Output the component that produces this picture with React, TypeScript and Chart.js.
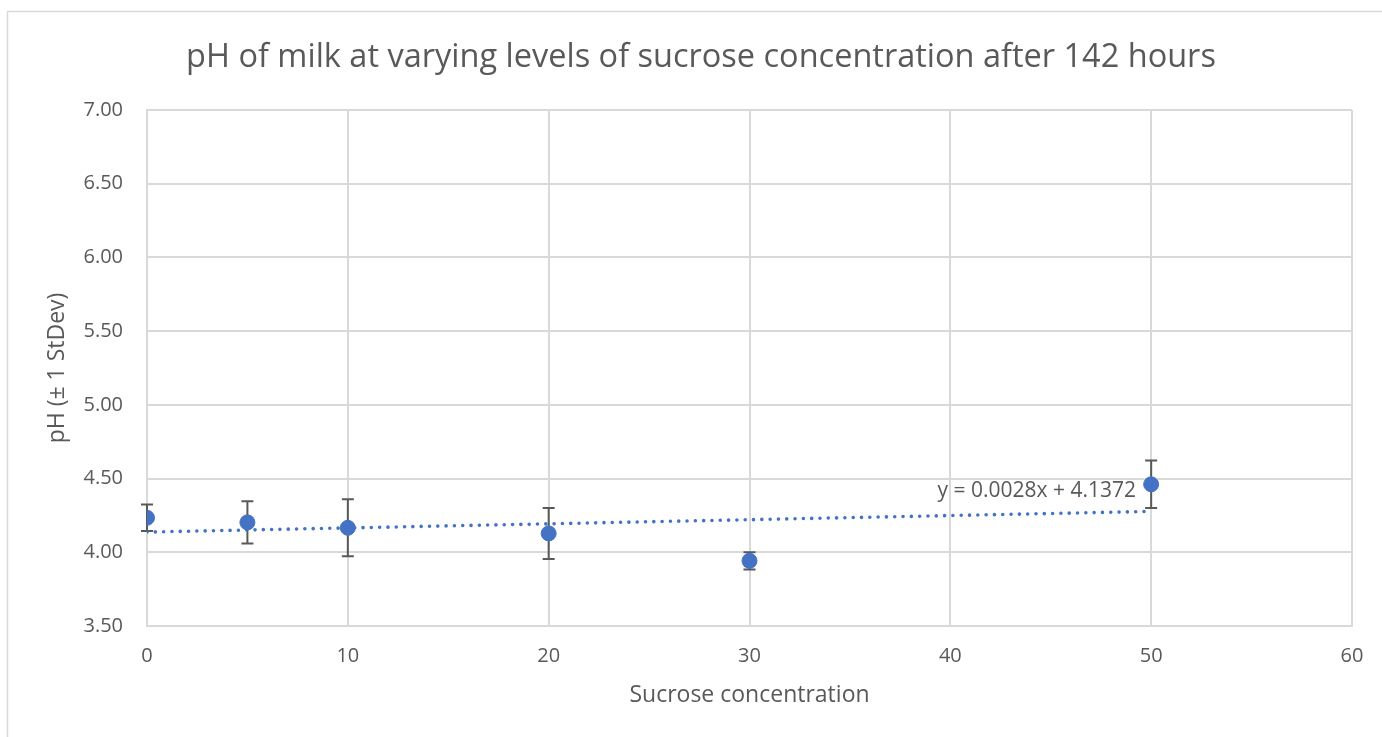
import React, { useEffect, useRef } from "react";
import { Chart, registerables } from "chart.js";

Chart.register(...registerables);

const sucrose = [0, 5, 10, 20, 30, 50];
const phMean = [4.234, 4.203, 4.166, 4.128, 3.942, 4.461];
const phSd = [0.09, 0.143, 0.193, 0.173, 0.058, 0.161];
const trendX = [0, 50];
const trendY = [4.1372, 4.2772];
const trendLabel = "y = 0.0028x + 4.1372";
const chartTitle = "pH of milk at varying levels of sucrose concentration after 142 hours";
const xTitle = "Sucrose concentration";
const yTitle = "pH (\u00b1 1 StDev)";

const FONT = "'Open Sans', 'DejaVu Sans', sans-serif";
const TEXT = "#595959";
const GRID = "#d9d9d9";
const BLUE = "#4472C4";

const W = 1382;
const H = 737;

export default function App() {
  const ref = useRef<HTMLCanvasElement | null>(null);

  useEffect(() => {
    const canvas = ref.current;
    if (!canvas) return;

    const decor = {
      id: "decor",
      beforeDraw(chart: any) {
        const ctx = chart.ctx;
        ctx.save();
        ctx.strokeStyle = GRID;
        ctx.lineWidth = 1.5;
        ctx.beginPath();
        ctx.moveTo(7.5, H);
        ctx.lineTo(7.5, 11.5);
        ctx.lineTo(W, 11.5);
        ctx.stroke();
        ctx.fillStyle = TEXT;
        ctx.font = `32.5px ${FONT}`;
        ctx.textAlign = "center";
        ctx.textBaseline = "middle";
        ctx.fillText(chartTitle, 701, 58);
        ctx.restore();
      },
      beforeDatasetsDraw(chart: any) {
        const ctx = chart.ctx;
        const xs = chart.scales.x;
        const ys = chart.scales.y;
        ctx.save();
        ctx.strokeStyle = "#595959";
        ctx.lineWidth = 2;
        for (let i = 0; i < sucrose.length; i++) {
          const px = xs.getPixelForValue(sucrose[i]);
          const top = ys.getPixelForValue(phMean[i] + phSd[i]);
          const bot = ys.getPixelForValue(phMean[i] - phSd[i]);
          ctx.beginPath();
          ctx.moveTo(px, top);
          ctx.lineTo(px, bot);
          ctx.moveTo(px - 6, top);
          ctx.lineTo(px + 6, top);
          ctx.moveTo(px - 6, bot);
          ctx.lineTo(px + 6, bot);
          ctx.stroke();
        }
        ctx.restore();
      },
      afterDatasetsDraw(chart: any) {
        const ctx = chart.ctx;
        ctx.save();
        ctx.fillStyle = TEXT;
        ctx.font = `21px ${FONT}`;
        ctx.textAlign = "right";
        ctx.textBaseline = "middle";
        ctx.fillText(trendLabel, 1136, 491);
        ctx.restore();
      },
    };

    const chart = new Chart(canvas, {
      type: "scatter",
      data: {
        datasets: [
          {
            label: "pH",
            data: sucrose.map((x, i) => ({ x, y: phMean[i] })),
            backgroundColor: BLUE,
            borderColor: BLUE,
            pointRadius: 7.5,
            pointHoverRadius: 7.5,
            showLine: false,
            order: 1,
          },
          {
            label: "Trend",
            type: "line",
            data: trendX.map((x, i) => ({ x, y: trendY[i] })),
            borderColor: BLUE,
            borderWidth: 3.6,
            borderDash: [0.01, 8.3],
            borderCapStyle: "round",
            pointRadius: 0,
            fill: false,
            showLine: true,
            order: 2,
          } as any,
        ],
      },
      options: {
        animation: false,
        responsive: false,
        events: [],
        layout: { padding: { left: 0, right: 30, top: 110, bottom: 0 } },
        plugins: {
          legend: { display: false },
          title: { display: false },
          tooltip: { enabled: false },
        },
        scales: {
          x: {
            type: "linear",
            min: 0,
            max: 60,
            ticks: {
              stepSize: 10,
              padding: 18,
              color: TEXT,
              font: { family: FONT, size: 20 },
            },
            grid: { color: GRID, lineWidth: 2, drawTicks: false },
            border: { color: GRID, width: 2 },
            title: {
              display: true,
              text: xTitle,
              color: TEXT,
              font: { family: FONT, size: 23 },
              padding: { top: 0, bottom: 28 },
            },
            afterFit(scale: any) {
              scale.height = H - 626;
            },
          },
          y: {
            type: "linear",
            min: 3.5,
            max: 7,
            ticks: {
              stepSize: 0.5,
              padding: 24,
              color: TEXT,
              font: { family: FONT, size: 20 },
              callback: (v: any) => Number(v).toFixed(2),
            },
            grid: { color: GRID, lineWidth: 2, drawTicks: false },
            border: { color: GRID, width: 2 },
            title: {
              display: true,
              text: yTitle,
              color: TEXT,
              font: { family: FONT, size: 23 },
              padding: { top: 44, bottom: 0 },
            },
            afterFit(scale: any) {
              scale.width = 147;
            },
          },
        },
      },
      plugins: [decor],
    } as any);

    return () => chart.destroy();
  }, []);

  return (
    <div style={{ position: "absolute", left: 0, top: 0, width: W, height: H, background: "#fff" }}>
      <canvas ref={ref} width={W} height={H} style={{ display: "block" }} />
    </div>
  );
}
